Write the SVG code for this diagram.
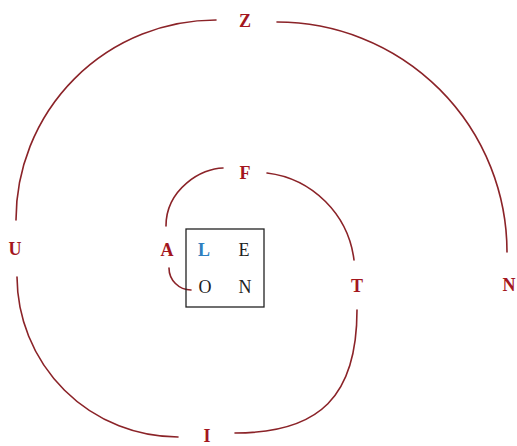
<svg xmlns="http://www.w3.org/2000/svg" width="517" height="446" viewBox="0 0 517 446">
<style>
.arc{fill:none;stroke:#8b2328;stroke-width:1.6;stroke-linecap:round}
.r{font-family:"Liberation Serif",serif;font-size:18px;font-weight:bold;fill:#a3161e;text-anchor:middle}
.b{font-family:"Liberation Serif",serif;font-size:18px;font-weight:bold;fill:#2f7fbf;text-anchor:middle}
.k{font-family:"Liberation Serif",serif;font-size:18px;fill:#222;text-anchor:middle}
</style>
<rect width="517" height="446" fill="#fff"/>
<g id="connectors">
<path class="arc" d="M191,290 A22,22 0 0 1 169,268"/>
<path class="arc" d="M166,226 C166,189 202,168 223,168"/>
<path class="arc" d="M267,173 A100,100 0 0 1 354,260"/>
<path class="arc" d="M357,310 C357,396 320,433 235,433"/>
<path class="arc" d="M178,437 A161,161 0 0 1 17,277"/>
<path class="arc" d="M16,220 A200,200 0 0 1 216,20"/>
<path class="arc" d="M277,22 A230,230 0 0 1 507,252"/>
</g>
<g id="grid"><rect x="186" y="229" width="78" height="78" fill="none" stroke="#222" stroke-width="1.3"/></g>
<g id="node-L"><text class="b" x="204" y="256">L</text></g>
<g id="node-E"><text class="k" x="244" y="256">E</text></g>
<g id="node-O"><text class="k" x="205" y="293">O</text></g>
<g id="node-N1"><text class="k" x="245" y="293">N</text></g>
<g id="node-A"><text class="r" x="167" y="256">A</text></g>
<g id="node-F"><text class="r" x="245" y="179">F</text></g>
<g id="node-T"><text class="r" x="357" y="292">T</text></g>
<g id="node-I"><text class="r" x="207" y="442">I</text></g>
<g id="node-U"><text class="r" x="15" y="255">U</text></g>
<g id="node-Z"><text class="r" x="245" y="27">Z</text></g>
<g id="node-N2"><text class="r" x="509" y="291">N</text></g>
</svg>
